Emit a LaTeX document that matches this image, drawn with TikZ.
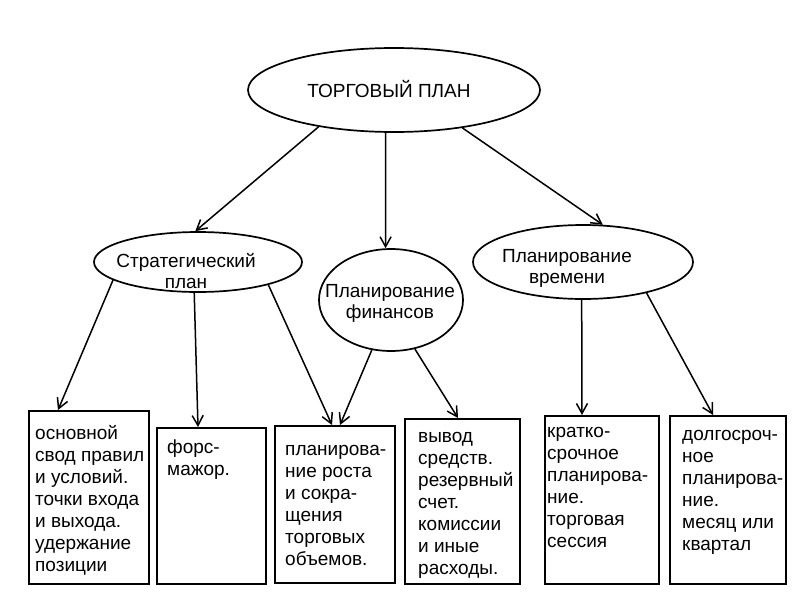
\documentclass[tikz,border=0pt]{standalone}
\usepackage{fontspec}
\setmainfont{Liberation Sans}
\usetikzlibrary{arrows.meta,shapes.geometric,calc}
\begin{document}
\begin{tikzpicture}[x=1pt,y=-1pt,
  ell/.style={draw,ellipse,line width=1.7pt,inner sep=0pt},
  box/.style={draw,rectangle,line width=1.9pt,inner sep=0pt,anchor=north west},
  txt/.style={font=\fontsize{19}{22}\selectfont,align=left,anchor=north west,inner sep=0pt},
  ctxt/.style={font=\fontsize{19}{21}\selectfont,align=center,inner sep=0pt},
  arr/.style={line width=1.5pt,-{Straight Barb[length=10pt,width=11pt,line width=1.5pt]}}]
\useasboundingbox[fill=white] (0,0) rectangle (800,600);

% ellipses
\node[ell,minimum width=292pt,minimum height=84pt] (top) at (394,90) {};
\node[ell,minimum width=208pt,minimum height=60pt] (strat) at (198,262) {};
\node[ell,minimum width=144pt,minimum height=102pt] (fin) at (391,300) {};
\node[ell,minimum width=220pt,minimum height=74pt] (time) at (583,262) {};

\node[ctxt,anchor=base] (ttop) at (389,97) {ТОРГОВЫЙ ПЛАН};
\node[ctxt,anchor=north] (tstrat) at (186,251) {\rule{0pt}{16pt}Стратегический\\план};
\node[ctxt,anchor=north] (tfin) at (390,281) {\rule{0pt}{16pt}Планирование\\финансов};
\node[ctxt,anchor=north] (ttime) at (567,246) {\rule{0pt}{16pt}Планирование\\времени};

% boxes
\node[box,minimum width=120pt,minimum height=173pt] (b1) at (28,410) {};
\node[box,minimum width=109pt,minimum height=156pt] (b2) at (156,427) {};
\node[box,minimum width=120pt,minimum height=157pt] (b3) at (274,425) {};
\node[box,minimum width=115pt,minimum height=165pt] (b4) at (404,418) {};
\node[box,minimum width=114pt,minimum height=168pt] (b5) at (544,415) {};
\node[box,minimum width=116pt,minimum height=168pt] (b6) at (669,415) {};

\node[txt] (t1) at (35,423) {\rule{0pt}{16pt}основной\\свод правил\\и условий.\\точки входа\\и выхода.\\удержание\\позиции};
\node[txt] (t2) at (167,437) {\rule{0pt}{16pt}форс-\\мажор.};
\node[txt] (t3) at (285,439) {\rule{0pt}{16pt}планирова-\\ние роста\\и сокра-\\щения\\торговых\\объемов.};
\node[txt] (t4) at (418,426) {\rule{0pt}{16pt}вывод\\средств.\\резервный\\счет.\\комиссии\\и иные\\расходы.};
\node[txt] (t5) at (547,421) {\rule{0pt}{16pt}кратко-\\срочное\\планирова-\\ние.\\торговая\\сессия};
\node[txt] (t6) at (682,424) {\rule{0pt}{16pt}долгосроч-\\ное\\планирова-\\ние.\\месяц или\\квартал};

% connectors
\draw[arr] (top.206) -- (strat.95);
\draw[arr] (top.259) -- (fin.96);
\draw[arr] (top.331) -- (time.62);
\draw[arr] (strat.192) -- ($(b1.north west)+(30,0)$);
\draw[arr] (strat.263) -- ($(b2.north west)+(42,0)$);
\draw[arr] (strat.342) -- ($(b3.north west)+(58,0)$);
\draw[arr] (fin.249) -- ($(b3.north west)+(66,0)$);
\draw[arr] (fin.296) -- ($(b4.north west)+(54,0)$);
\draw[arr] (time.268) -- ($(b5.north west)+(38,0)$);
\draw[arr] (time.334) -- ($(b6.north west)+(44,0)$);
\end{tikzpicture}
\end{document}
